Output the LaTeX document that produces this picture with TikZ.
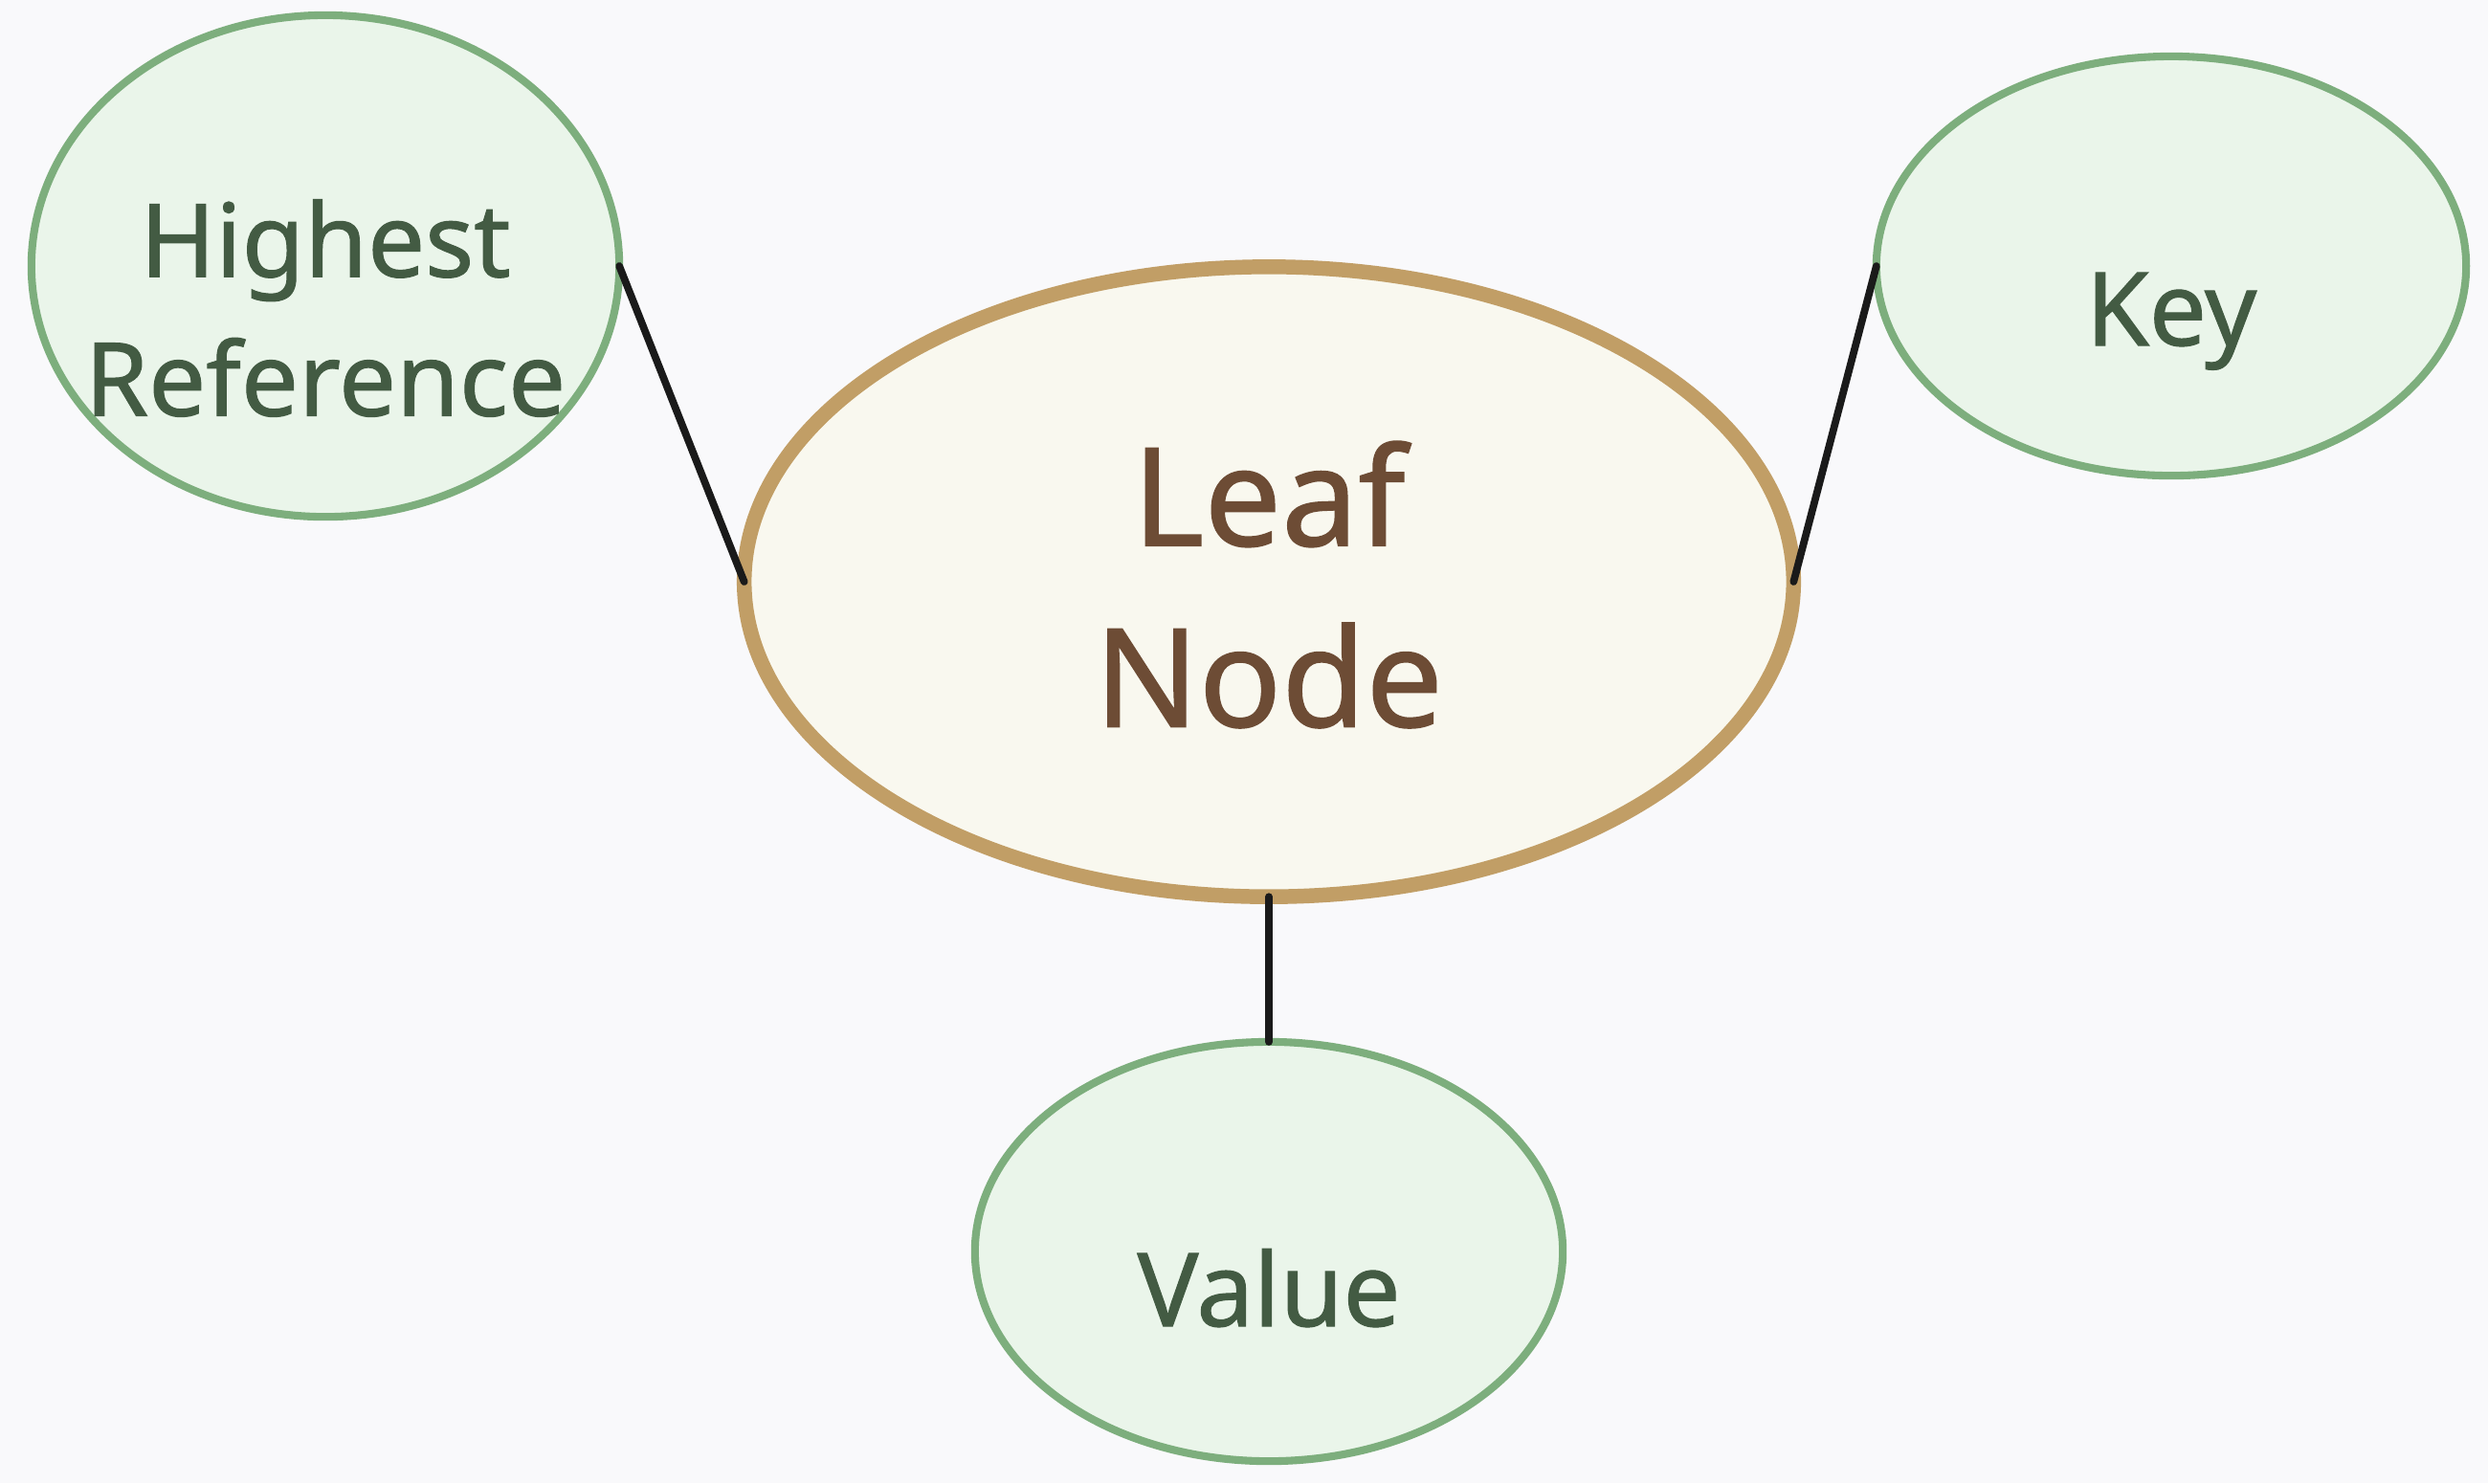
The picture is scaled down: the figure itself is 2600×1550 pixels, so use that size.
\documentclass[tikz,border=0pt]{standalone}
\usepackage{fontspec}
\setmainfont{Noto Sans}[Ligatures=CommonOff, FakeBold=1]
\usetikzlibrary{shapes.geometric}
\definecolor{bgc}{HTML}{F9F9FB}
\definecolor{gfill}{HTML}{EAF5EA}
\definecolor{gline}{HTML}{7DAE7D}
\definecolor{gtext}{HTML}{435B43}
\definecolor{lfill}{HTML}{F9F8EF}
\definecolor{lline}{HTML}{C19E66}
\definecolor{ltext}{HTML}{6D4C35}
\definecolor{conn}{HTML}{1A1A1A}
\tikzset{
  greenell/.style={ellipse, draw=gline, fill=gfill, line width=2.3pt, inner sep=0pt, outer sep=0pt},
  leafell/.style={ellipse, draw=lline, fill=lfill, line width=4.4pt, inner sep=0pt, outer sep=0pt},
  gtxt/.style={text=gtext, inner sep=0pt, align=center, font=\bfseries\fontsize{30.3}{41.3}\selectfont},
  ltxt/.style={text=ltext, inner sep=0pt, align=center, font=\bfseries\fontsize{40.7}{53.8}\selectfont},
  connector/.style={draw=conn, line width=2.2pt, line cap=round}
}
\begin{document}
\begin{tikzpicture}[x=0.01cm, y=-0.01cm]
  \path[fill=bgc, use as bounding box] (0,0) rectangle (2600,1550);
  \node[leafell, minimum width=10.96cm, minimum height=6.58cm] (leaf) at (1326,608) {};
  \node[greenell, minimum width=6.14cm, minimum height=5.24cm] (hr) at (340,278) {};
  \node[greenell, minimum width=6.16cm, minimum height=4.38cm] (key) at (2269,278) {};
  \node[greenell, minimum width=6.14cm, minimum height=4.38cm] (val) at (1326,1308) {};
  \draw[connector] (hr.east) -- (leaf.west);
  \draw[connector] (key.west) -- (leaf.east);
  \draw[connector] (leaf.south) -- (val.north);
  \node[ltxt, anchor=center] (leaft) at (1326,611) {Leaf\\Node};
  \node[gtxt, anchor=center] (hrt) at (340,322) {Highest\\Reference};
  \node[gtxt, anchor=base] (keyt) at (2269,361) {Key};
  \node[gtxt, anchor=base] (valt) at (1326,1386) {Value};
\end{tikzpicture}
\end{document}
